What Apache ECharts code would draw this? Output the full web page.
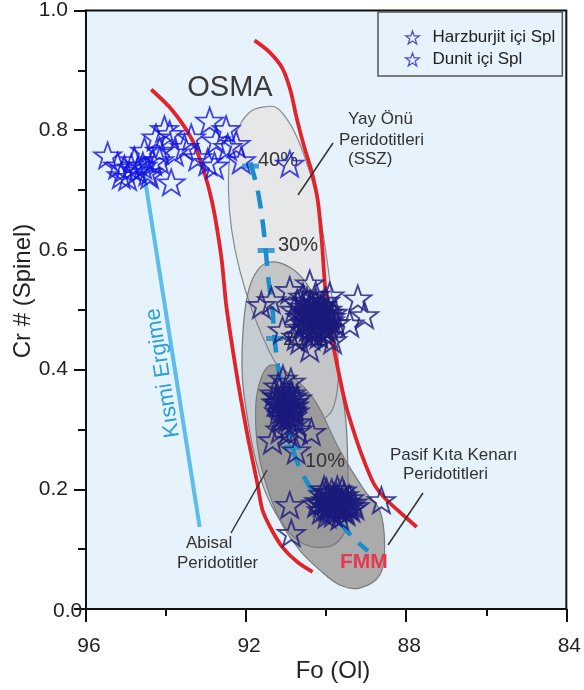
<!DOCTYPE html>
<html>
<head>
<meta charset="utf-8">
<script src="https://cdn.jsdelivr.net/npm/echarts@6/dist/echarts.min.js"></script>
<style>
  html, body { margin: 0; padding: 0; background: #ffffff; }
  #chart { width: 584px; height: 690px; }
</style>
</head>
<body>
<div id="chart"></div>
<script>
// Olivine Fo vs spinel Cr# (OSMA) diagram

// Axis ranges and tick labels
const xRange = [84, 96];
const yRange = [0, 1];
const xTickLabels = ['96', '92', '88', '84'];
const yTickLabels = ['0.0', '0.2', '0.4', '0.6', '0.8', '1.0'];

// Spinel in harzburgite: [Fo, Cr#]
const harzburgiteSpl = [
  // Cr# ~0.48 group
  [91.62, 0.508], [91.37, 0.516], [90.91, 0.533], [90.41, 0.544], [89.91, 0.524],
  [89.21, 0.519], [89.04, 0.491], [89.41, 0.477], [89.84, 0.449], [90.41, 0.436],
  [90.75, 0.455], [91.09, 0.466], [90.66, 0.449],
  [90.80, 0.500], [90.72, 0.512], [90.65, 0.488], [90.60, 0.505], [90.55, 0.478],
  [90.52, 0.495], [90.48, 0.515], [90.45, 0.470], [90.42, 0.490], [90.40, 0.505],
  [90.36, 0.480], [90.33, 0.462], [90.30, 0.498], [90.28, 0.512], [90.25, 0.485],
  [90.22, 0.470], [90.20, 0.500], [90.16, 0.490], [90.14, 0.478], [90.10, 0.508],
  [90.08, 0.465], [90.05, 0.492], [90.00, 0.480], [89.97, 0.500], [89.92, 0.470],
  [89.88, 0.488], [89.82, 0.495], [89.76, 0.478], [90.62, 0.470], [90.38, 0.455],
  [90.18, 0.458], [89.95, 0.458], [90.58, 0.522], [90.26, 0.525], [90.02, 0.515],
  [90.60, 0.492], [90.50, 0.485], [90.44, 0.500], [90.34, 0.492], [90.30, 0.475],
  [90.24, 0.495], [90.12, 0.485], [90.06, 0.472], [89.98, 0.490], [89.90, 0.482],
  [90.46, 0.480], [90.38, 0.510], [90.20, 0.482], [90.10, 0.495], [90.00, 0.468],
  [90.56, 0.500], [90.32, 0.488], [90.14, 0.502], [89.94, 0.495], [90.28, 0.468],
  // Cr# ~0.34 group
  [91.30, 0.360], [91.25, 0.345], [91.20, 0.372], [91.18, 0.330], [91.12, 0.355],
  [91.10, 0.318], [91.05, 0.340], [91.02, 0.365], [90.98, 0.325], [90.95, 0.350],
  [90.92, 0.310], [90.90, 0.338], [90.88, 0.360], [90.85, 0.322], [90.82, 0.345],
  [90.78, 0.330], [90.75, 0.312], [90.72, 0.352], [91.15, 0.300], [90.95, 0.295],
  [91.08, 0.385], [90.88, 0.380], [90.70, 0.300],
  [91.22, 0.355], [91.15, 0.340], [91.08, 0.350], [91.00, 0.335], [90.92, 0.345],
  [90.86, 0.332], [91.12, 0.325], [91.04, 0.358], [90.96, 0.318], [90.80, 0.340],
  [91.18, 0.345], [90.90, 0.325], [91.02, 0.330], [90.84, 0.355],
  [91.34, 0.282], [90.75, 0.265], [90.37, 0.296],
  // Cr# ~0.17 group
  [90.18, 0.180], [90.12, 0.165], [90.08, 0.192], [90.02, 0.172], [89.98, 0.158],
  [89.95, 0.185], [89.90, 0.170], [89.86, 0.195], [89.82, 0.160], [89.78, 0.178],
  [89.74, 0.188], [89.70, 0.168], [89.66, 0.155], [89.62, 0.180], [89.58, 0.170],
  [89.55, 0.190], [89.50, 0.162], [89.46, 0.176], [89.42, 0.185], [89.38, 0.168],
  [89.33, 0.178], [89.28, 0.172], [90.05, 0.200], [89.72, 0.200], [89.60, 0.198],
  [90.10, 0.178], [90.00, 0.182], [89.92, 0.176], [89.84, 0.182], [89.76, 0.170],
  [89.68, 0.178], [89.60, 0.175], [89.52, 0.178], [89.44, 0.172], [89.88, 0.166],
  [89.70, 0.185], [89.96, 0.170], [89.56, 0.166], [89.80, 0.188],
  [90.91, 0.174], [90.87, 0.127], [88.62, 0.182], [89.99, 0.196], [90.24, 0.176]
];

// Spinel in dunite: [Fo, Cr#]
const duniteSpl = [
  [95.46, 0.758], [95.21, 0.741], [95.12, 0.725], [95.04, 0.736], [94.96, 0.722],
  [94.87, 0.738], [94.79, 0.750], [94.71, 0.733], [94.58, 0.741], [94.54, 0.766],
  [94.46, 0.730], [94.41, 0.725], [94.33, 0.747], [94.25, 0.788], [94.16, 0.766],
  [94.16, 0.750], [94.04, 0.802], [93.91, 0.794], [93.87, 0.713], [93.79, 0.763],
  [93.54, 0.772], [93.37, 0.788], [93.21, 0.755], [92.96, 0.747], [92.91, 0.816],
  [92.75, 0.783], [92.79, 0.741], [92.50, 0.802], [92.46, 0.772], [92.25, 0.777],
  [92.12, 0.750], [90.91, 0.744]
];

// OSMA band boundaries
const osmaLeft = [
  [94.37, 0.868], [93.84, 0.833], [93.34, 0.783], [93.04, 0.728], [92.86, 0.683],
  [92.74, 0.641], [92.61, 0.583], [92.49, 0.504], [92.24, 0.394], [91.99, 0.299],
  [91.84, 0.249], [91.71, 0.207], [91.59, 0.165], [91.36, 0.132], [91.09, 0.103],
  [90.71, 0.078], [90.34, 0.062]
];
const osmaRight = [
  [91.79, 0.950], [91.41, 0.930], [91.09, 0.903], [90.89, 0.866], [90.74, 0.821],
  [90.56, 0.775], [90.36, 0.730], [90.21, 0.683], [90.11, 0.616], [90.04, 0.549],
  [89.96, 0.491], [89.81, 0.436], [89.51, 0.341], [89.24, 0.282], [89.01, 0.240],
  [88.79, 0.207], [88.49, 0.182], [88.16, 0.162], [87.74, 0.137]
];

// FMM melting trend and its melting-degree marks
const fmmTrend = [
  [91.89, 0.746], [91.71, 0.699], [91.59, 0.649], [91.51, 0.599], [91.44, 0.549],
  [91.34, 0.499], [91.29, 0.452], [91.19, 0.399], [91.06, 0.349], [90.94, 0.299],
  [90.76, 0.252], [90.54, 0.219], [90.21, 0.185], [89.76, 0.152], [89.34, 0.120],
  [88.96, 0.097]
];
const meltMarks = [[91.89, 0.740], [91.50, 0.599], [91.29, 0.452], [90.84, 0.270]];
const meltLabels = ['40%', '30%', '20%', '10%'];

// Partial melting arrow
const partialMelting = [[94.59, 0.745], [93.16, 0.137]];

// Peridotite fields
const fieldForearc = [
  [91.63, 0.838], [91.25, 0.838], [90.88, 0.808], [90.55, 0.758], [90.25, 0.691],
  [90.05, 0.616], [89.88, 0.533], [89.73, 0.449], [89.70, 0.382], [89.85, 0.332],
  [90.18, 0.316], [90.55, 0.336], [90.93, 0.374], [91.43, 0.432], [91.85, 0.499],
  [92.16, 0.566], [92.36, 0.633], [92.44, 0.699], [92.39, 0.766], [92.16, 0.808],
  [91.91, 0.830]
];
const fieldAbyssal = [
  [91.46, 0.579], [91.79, 0.558], [91.99, 0.516], [92.09, 0.449], [92.09, 0.382],
  [91.96, 0.316], [91.79, 0.257], [91.54, 0.199], [91.16, 0.149], [90.71, 0.115],
  [90.21, 0.103], [89.71, 0.112], [89.46, 0.149], [89.46, 0.232], [89.51, 0.316],
  [89.71, 0.399], [90.04, 0.482], [90.46, 0.541], [90.91, 0.571]
];
const fieldPassive = [
  [91.41, 0.407], [90.91, 0.392], [90.29, 0.349], [89.66, 0.265], [89.03, 0.197],
  [88.66, 0.165], [88.54, 0.107], [88.66, 0.057], [89.16, 0.035], [89.66, 0.040],
  [90.16, 0.065], [90.66, 0.098], [91.09, 0.140], [91.41, 0.190], [91.66, 0.249],
  [91.76, 0.307], [91.71, 0.366]
];

const seriesNames = ['Harzburjit içi Spl', 'Dunit içi Spl'];

const FONT = "'Liberation Sans', Arial, Helvetica, sans-serif";
const STAR = 'path://M0,-10L2.35,-3.24L9.51,-3.09L3.8,1.24L5.88,8.09L0,4L-5.88,8.09L-3.8,1.24L-9.51,-3.09L-2.35,-3.24Z';
const HARZ_COLOR = '#1a1a7c';
const DUN_COLOR = '#1414e0';

function fieldSeries(pts, fill, stroke, z) {
  return {
    type: 'custom',
    silent: true,
    z: z,
    clip: true,
    data: [pts[0]],
    renderItem: function (params, api) {
      return {
        type: 'polygon',
        shape: { points: pts.map(function (p) { return api.coord(p); }), smooth: 0.35 },
        style: { fill: fill, stroke: stroke, lineWidth: 1.2 }
      };
    }
  };
}

const chart = echarts.init(document.getElementById('chart'), null, { renderer: 'canvas' });

function text(str, x, y, opts) {
  opts = opts || {};
  return {
    type: 'text',
    z: opts.z || 5,
    x: x, y: y,
    rotation: opts.rotation || 0,
    silent: true,
    style: {
      text: str,
      x: 0, y: 0,
      font: opts.font || ('17px ' + FONT),
      fill: opts.fill || '#333333',
      align: opts.align || 'left',
      textAlign: opts.align || 'left',
      verticalAlign: 'middle',
      textVerticalAlign: 'middle'
    }
  };
}
function leader(x1, y1, x2, y2) {
  return {
    type: 'line', z: 5, silent: true,
    shape: { x1: x1, y1: y1, x2: x2, y2: y2 },
    style: { stroke: '#333333', lineWidth: 1.5 }
  };
}

const option = {
  animation: false,
  backgroundColor: '#ffffff',
  grid: {
    left: 86, right: 17, top: 10, bottom: 81,
    show: true,
    backgroundColor: '#e6f3fc',
    borderColor: '#111111',
    borderWidth: 2
  },
  xAxis: {
    type: 'value',
    min: xRange[0], max: xRange[1], interval: 4,
    inverse: true,
    axisLine: { show: true, onZero: false, lineStyle: { color: '#111', width: 2 } },
    axisTick: { show: true, inside: false, length: 13, lineStyle: { color: '#111', width: 2 } },
    minorTick: { show: true, splitNumber: 2, length: 7, lineStyle: { color: '#111', width: 2 } },
    splitLine: { show: false },
    axisLabel: {
      margin: 27, fontSize: 21, color: '#222', fontFamily: FONT, padding: [0, 0, 0, 6],
      formatter: function (v) { return xTickLabels[xTickLabels.indexOf(String(v))] || ''; }
    }
  },
  yAxis: {
    type: 'value',
    min: yRange[0], max: yRange[1], interval: 0.2,
    axisLine: { show: true, onZero: false, lineStyle: { color: '#111', width: 2 } },
    axisTick: { show: true, inside: false, length: 12, lineStyle: { color: '#111', width: 2 } },
    minorTick: { show: true, splitNumber: 2, length: 8, lineStyle: { color: '#111', width: 2 } },
    splitLine: { show: false },
    axisLabel: {
      margin: 18, fontSize: 21, color: '#222', fontFamily: FONT,
      formatter: function (v) {
        const s = v.toFixed(1);
        return s === yTickLabels[0] ? '' : s;
      }
    }
  },
  legend: {
    data: [
      { name: seriesNames[0], icon: STAR,
        itemStyle: { color: 'rgba(0,0,0,0)', borderColor: '#2a2aa6', borderWidth: 1.3 } },
      { name: seriesNames[1], icon: STAR,
        itemStyle: { color: 'rgba(0,0,0,0)', borderColor: '#2424e6', borderWidth: 1.3 } }
    ],
    orient: 'vertical',
    left: 378, top: 12,
    padding: [17, 7, 8, 27],
    itemGap: 5,
    itemWidth: 30, itemHeight: 13,
    backgroundColor: '#e6f3fc',
    borderColor: '#555555',
    borderWidth: 1.5,
    borderRadius: 0,
    textStyle: { fontSize: 17, color: '#222', fontFamily: FONT }
  },
  series: [
    fieldSeries(fieldForearc, '#e5e7e9', '#8a8a8a', 1),
    fieldSeries(fieldPassive, '#ababab', '#7c7c7c', 1),
    fieldSeries(fieldAbyssal, 'rgba(120,120,120,0.3)', '#7a7a7a', 1),
    {
      type: 'line', data: osmaLeft, smooth: 0.3, symbol: 'none', silent: true, z: 3,
      lineStyle: { color: '#e3232a', width: 3.8 }
    },
    {
      type: 'line', data: osmaRight, smooth: 0.3, symbol: 'none', silent: true, z: 3,
      lineStyle: { color: '#e3232a', width: 3.8 }
    },
    {
      type: 'line', data: partialMelting, symbol: 'none', silent: true, z: 3,
      lineStyle: { color: '#5cbcea', width: 4 }
    },
    {
      type: 'line', data: fmmTrend, smooth: 0.3, symbol: 'none', silent: true, z: 3,
      lineStyle: { color: '#1b8ccc', width: 4.5, type: [18, 11] }
    },
    {
      type: 'scatter', data: meltMarks, symbol: 'rect', symbolSize: [17, 5], silent: true, z: 4,
      itemStyle: { color: '#1b8ccc' }
    },
    {
      name: seriesNames[0], type: 'scatter', data: harzburgiteSpl, z: 10,
      symbol: STAR, symbolSize: 27, symbolKeepAspect: true,
      itemStyle: { color: 'rgba(0,0,0,0)', borderColor: HARZ_COLOR, borderWidth: 1.9 }
    },
    {
      name: seriesNames[1], type: 'scatter', data: duniteSpl, z: 10,
      symbol: STAR, symbolSize: 27, symbolKeepAspect: true,
      itemStyle: { color: 'rgba(0,0,0,0)', borderColor: DUN_COLOR, borderWidth: 1.8 }
    }
  ],
  graphic: [
    text('OSMA', 230, 88, { font: '29px ' + FONT, align: 'center', fill: '#3a3a3a' }),
    text(meltLabels[0], 258, 160, { font: '20px ' + FONT }),
    text(meltLabels[1], 278, 245, { font: '20px ' + FONT }),
    text(meltLabels[2], 283, 339, { font: '20px ' + FONT }),
    text(meltLabels[3], 305, 461, { font: '20px ' + FONT }),
    text('Yay Önü', 348, 119),
    text('Peridotitleri', 339, 140),
    text('(SSZ)', 348, 159),
    text('Pasif Kıta Kenarı', 390, 455),
    text('Peridotitleri', 403, 474),
    text('Abisal', 186, 543),
    text('Peridotitler', 177, 563),
    text('FMM', 340, 562, { font: 'bold 21px ' + FONT, fill: '#e8374e' }),
    text('Kısmi Ergime', 163, 373, { font: '22px ' + FONT, fill: '#2a9fd8', align: 'center', rotation: 1.726 }),
    leader(333, 143, 298, 195),
    leader(423, 493, 388, 545),
    leader(231, 533, 267, 470),
    text(yTickLabels[0], 53, 611, { font: '21px ' + FONT, fill: '#222' }),
    text('Fo (Ol)', 333, 671, { font: '24px ' + FONT, fill: '#222', align: 'center' }),
    text('Cr # (Spinel)', 23, 291, { font: '24px ' + FONT, fill: '#222', align: 'center', rotation: Math.PI / 2 })
  ]
};

chart.setOption(option);
</script>
</body>
</html>
